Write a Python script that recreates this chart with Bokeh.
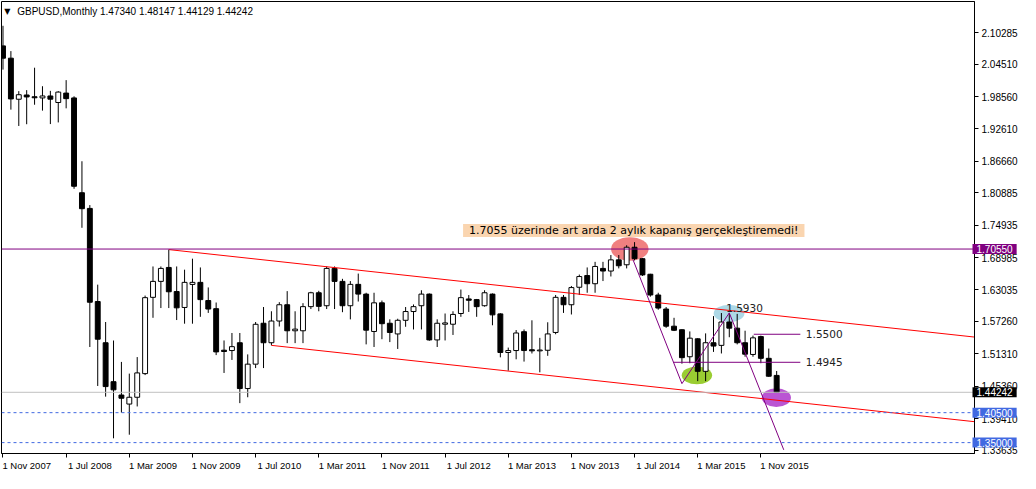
from bokeh.plotting import figure
from bokeh.models import Range1d, FixedTicker, PrintfTickFormatter, Span, Label, ColumnDataSource, LinearAxis
from bokeh.layouts import row
from bokeh.embed import file_html
from bokeh.resources import INLINE

# ---------------- data (monthly GBPUSD, Nov 2007 .. Jan 2016) ----------------
bar_index = list(range(99))
opens = [2.0786, 2.0560, 1.9806, 1.9884, 1.9852, 1.9830, 1.9866, 1.9746, 1.9919, 1.9830,
         1.8089, 1.7801, 1.6091, 1.5334, 1.4619, 1.4374, 1.4208, 1.4333, 1.4767, 1.6168,
         1.6461, 1.6717, 1.6274, 1.5982, 1.6405, 1.6443, 1.6109, 1.5960, 1.5197, 1.5191,
         1.5334, 1.4493, 1.4941, 1.5692, 1.5334, 1.5733, 1.6032, 1.5554, 1.5554, 1.5997,
         1.6252, 1.6014, 1.6699, 1.6461, 1.6014, 1.6406, 1.6227, 1.5541, 1.6067, 1.5692,
         1.5496, 1.5746, 1.5907, 1.6014, 1.6227, 1.5386, 1.5674, 1.5674, 1.5871, 1.6138,
         1.6126, 1.6014, 1.6227, 1.5864, 1.5155, 1.5191, 1.5537, 1.5205, 1.5185, 1.5196,
         1.5523, 1.6168, 1.6032, 1.6353, 1.6568, 1.6418, 1.6699, 1.6651, 1.6856, 1.6766,
         1.7088, 1.6878, 1.6592, 1.6211, 1.5953, 1.5638, 1.5573, 1.5077, 1.5406, 1.4809,
         1.5334, 1.5286, 1.5715, 1.5602, 1.5334, 1.5119, 1.5447, 1.5048, 1.47340]
highs = [2.1155, 2.0690, 1.9955, 1.9973, 2.0385, 2.0045, 1.9960, 1.9955, 2.0157, 1.9860,
         1.8667, 1.7862, 1.6401, 1.5715, 1.5375, 1.4982, 1.4767, 1.5071, 1.6200, 1.6735,
         1.6735, 1.7045, 1.6735, 1.6676, 1.6878, 1.6717, 1.6350, 1.6073, 1.5376, 1.5513,
         1.5513, 1.5120, 1.5715, 1.5990, 1.5912, 1.6079, 1.6282, 1.5912, 1.6061, 1.6270,
         1.6288, 1.6735, 1.6735, 1.6508, 1.6466, 1.6604, 1.6252, 1.6252, 1.6109, 1.5764,
         1.5775, 1.5990, 1.6037, 1.6298, 1.6240, 1.5764, 1.5871, 1.5912, 1.6311, 1.6210,
         1.6138, 1.6298, 1.6240, 1.5876, 1.5245, 1.5567, 1.5578, 1.5746, 1.5424, 1.5710,
         1.6211, 1.6211, 1.6377, 1.6586, 1.6717, 1.6820, 1.6820, 1.6945, 1.6945, 1.7124,
         1.7182, 1.6890, 1.6600, 1.6252, 1.5990, 1.5792, 1.5580, 1.5542, 1.5418, 1.5506,
         1.5823, 1.5880, 1.5882, 1.5864, 1.5555, 1.5465, 1.5465, 1.5227, 1.48147]
lows = [2.0350, 1.9615, 1.9315, 1.9347, 1.9705, 1.9597, 1.9350, 1.9380, 1.9639, 1.8161,
        1.7445, 1.5256, 1.4540, 1.4344, 1.3579, 1.4052, 1.3645, 1.4164, 1.4740, 1.5792,
        1.5971, 1.5971, 1.5751, 1.5684, 1.5684, 1.5810, 1.5882, 1.5107, 1.4779, 1.5018,
        1.4225, 1.4333, 1.4869, 1.4869, 1.5286, 1.5632, 1.5327, 1.5327, 1.5327, 1.5953,
        1.5912, 1.5953, 1.5953, 1.5895, 1.5763, 1.6091, 1.5304, 1.5256, 1.5399, 1.5346,
        1.5220, 1.5627, 1.5578, 1.5578, 1.5370, 1.5256, 1.5376, 1.5477, 1.5810, 1.5900,
        1.5810, 1.5997, 1.5655, 1.5066, 1.4821, 1.5030, 1.4988, 1.5137, 1.4791, 1.5094,
        1.5490, 1.5882, 1.5853, 1.6211, 1.6252, 1.6252, 1.6467, 1.6551, 1.6699, 1.6699,
        1.6847, 1.6560, 1.6180, 1.5941, 1.5608, 1.5549, 1.4950, 1.4958, 1.4629, 1.4629,
        1.5166, 1.5137, 1.5435, 1.5304, 1.5077, 1.5077, 1.4958, 1.4708, 1.44129]
closes = [2.0560, 1.9812, 1.9889, 1.9848, 1.9833, 1.9866, 1.9807, 1.9937, 1.9817, 1.8208,
          1.7796, 1.6078, 1.5399, 1.4529, 1.4469, 1.4315, 1.4333, 1.4780, 1.6162, 1.6461,
          1.6699, 1.6270, 1.5975, 1.6443, 1.6443, 1.6126, 1.5953, 1.5166, 1.5173, 1.5262,
          1.4493, 1.4941, 1.5673, 1.5334, 1.5733, 1.6032, 1.5554, 1.5584, 1.5997, 1.6252,
          1.6002, 1.6699, 1.6461, 1.6014, 1.6406, 1.6227, 1.5565, 1.6067, 1.5684, 1.5523,
          1.5746, 1.5907, 1.5997, 1.6227, 1.5386, 1.5692, 1.5698, 1.5854, 1.6162, 1.6114,
          1.5997, 1.6252, 1.5846, 1.5155, 1.5191, 1.5513, 1.5191, 1.5185, 1.5200, 1.5496,
          1.6168, 1.6032, 1.6347, 1.6550, 1.6418, 1.6735, 1.6651, 1.6856, 1.6748, 1.7088,
          1.6878, 1.6580, 1.6211, 1.5971, 1.5638, 1.5563, 1.5060, 1.5418, 1.4809, 1.5334,
          1.5273, 1.5715, 1.5602, 1.5334, 1.5124, 1.5424, 1.5048, 1.4719, 1.44242]

date_tick_index = [0, 8, 16, 24, 32, 40, 48, 56, 64, 72, 80, 88, 96]
date_tick_labels = ["1 Nov 2007", "1 Jul 2008", "1 Mar 2009", "1 Nov 2009", "1 Jul 2010",
                    "1 Mar 2011", "1 Nov 2011", "1 Jul 2012", "1 Mar 2013", "1 Nov 2013",
                    "1 Jul 2014", "1 Mar 2015", "1 Nov 2015"]
price_ticks = [2.10285, 2.04510, 1.98560, 1.92610, 1.86660, 1.80885, 1.74935, 1.68985,
               1.63035, 1.57260, 1.51310, 1.45360, 1.39410, 1.33635]

resistance_level = 1.7055
bid_level = 1.44242
support_levels = [1.40500, 1.35000]

price_tag_values = [1.70550, 1.44242, 1.40500, 1.35000]
price_tag_colors = ["#800080", "black", "#4169E1", "#4169E1"]

channel_upper_x = [21, 130]
channel_upper_y = [1.7045, 1.5329]
channel_lower_x = [34, 130]
channel_lower_y = [1.5286, 1.3775]
zigzag_x = [79.8, 86.0, 92.0, 98.9]
zigzag_y = [1.6860, 1.4583, 1.5882, 1.3367]
short_levels_x0 = [95.1, 84.9]
short_levels_x1 = [101.0, 101.0]
short_levels_y = [1.5490, 1.4975]
short_level_labels = ["1.5500", "1.4945"]

ellipse_x = [79.4, 91.97, 87.9, 97.96]
ellipse_y = [1.7057, 1.5873, 1.4735, 1.4326]
ellipse_w = [4.75, 3.9, 3.85, 3.7]
ellipse_h = [0.0432, 0.0318, 0.0328, 0.0345]
ellipse_colors = ["#F08080", "#ADD8E6", "#9ACD32", "#BA55D3"]

title_text = "GBPUSD,Monthly  1.47340 1.48147 1.44129 1.44242"
note_text = "1.7055 üzerinde art arda 2 aylık kapanış gerçekleştiremedi!"

X0, X1 = -0.19, 123.06
Y0, Y1 = 1.3300, 2.1601
LABEL_SHIFT = 3    # date labels sit to the right of their tick, as in the source
SCALE_W = 53       # width of the price-scale strip that carries the coloured tags


def add_date_axes(fig, ticks, labels, visible=True):
    a = fig.xaxis[0]
    a.ticker = FixedTicker(ticks=ticks)
    a.major_label_overrides = {t: "" for t in ticks}
    a.major_label_text_font_size = "1px"
    a.major_label_standoff = 0
    a.major_tick_in = 0
    a.major_tick_out = 4
    a.minor_tick_out = 0
    a.minor_tick_in = 0
    a.axis_line_color = "black"
    shifted = [t + LABEL_SHIFT for t in ticks]
    b = LinearAxis(ticker=FixedTicker(ticks=shifted),
                   major_label_overrides={t: lab for t, lab in zip(shifted, labels)},
                   major_label_text_font="Liberation Sans", major_label_text_font_size="9.5px",
                   major_label_text_color="black", major_tick_in=0, major_tick_out=0,
                   minor_tick_in=0, minor_tick_out=0, axis_line_color=None, major_label_standoff=2)
    fig.add_layout(b, "below")
    if not visible:
        a.axis_line_alpha = 0
        a.major_tick_line_alpha = 0
        b.major_label_text_alpha = 0


# ---------------- main figure ----------------
p = figure(width=1020, height=473, output_backend="svg", toolbar_location=None, tools="",
           x_range=Range1d(X0, X1), y_range=Range1d(Y0, Y1), y_axis_location="right")
p.min_border_left = 1
p.min_border_top = 1
p.min_border_right = 0
p.min_border_bottom = 0
p.grid.visible = False
p.outline_line_color = "black"
p.background_fill_color = "white"
p.border_fill_color = "white"

add_date_axes(p, date_tick_index, date_tick_labels)

ya = p.yaxis[0]
ya.ticker = FixedTicker(ticks=price_ticks)
ya.formatter = PrintfTickFormatter(format="%.5f")
ya.major_label_text_font = "Liberation Sans"
ya.major_label_text_font_size = "10px"
ya.major_label_text_color = "black"
ya.major_tick_in = 0
ya.major_tick_out = 4
ya.minor_tick_out = 0
ya.minor_tick_in = 0
ya.axis_line_color = "black"
ya.major_label_standoff = 3

# ellipses (background)
p.ellipse(x=ellipse_x, y=ellipse_y, width=ellipse_w, height=ellipse_h,
          fill_color=ellipse_colors, line_color=None)

# candles
fills = ["white" if c >= o else "black" for o, c in zip(opens, closes)]
src = ColumnDataSource(dict(
    x=bar_index, high=highs, low=lows,
    top=[max(o, c) for o, c in zip(opens, closes)],
    bottom=[min(o, c) for o, c in zip(opens, closes)],
    fill=fills))
p.segment(x0="x", y0="high", x1="x", y1="low", source=src, line_color="black", line_width=1)
p.vbar(x="x", top="top", bottom="bottom", width=0.62, fill_color="fill",
       line_color="black", line_width=1, source=src)

# horizontal levels
p.add_layout(Span(location=resistance_level, dimension="width", line_color="#800080", line_width=1))
p.add_layout(Span(location=bid_level, dimension="width", line_color="#C0C0C0", line_width=1))
for lv in support_levels:
    p.add_layout(Span(location=lv, dimension="width", line_color="#4169E1",
                      line_width=1, line_dash="3 3"))

# channel and trend lines
p.line(channel_upper_x, channel_upper_y, line_color="red", line_width=1)
p.line(channel_lower_x, channel_lower_y, line_color="red", line_width=1)
p.line(zigzag_x, zigzag_y, line_color="#800080", line_width=1)
p.segment(x0=short_levels_x0, y0=short_levels_y, x1=short_levels_x1, y1=short_levels_y,
          line_color="#800080", line_width=1)

for yv, txt in zip(short_levels_y, short_level_labels):
    p.add_layout(Label(x=101.7, y=yv, text=txt, text_font="DejaVu Sans", text_font_size="10.5px",
                       text_color="#222222", text_align="left", text_baseline="middle"))
p.add_layout(Label(x=91.6, y=1.5978, text="1.5930", text_font="DejaVu Sans", text_font_size="10.5px",
                   text_color="#222222", text_align="left", text_baseline="middle"))

# note box
p.add_layout(Label(x=79.9, y=1.7397, text=note_text, text_font="DejaVu Sans", text_font_size="11px",
                   text_color="black", text_align="center", text_baseline="middle",
                   background_fill_color="#FAD5B0", padding=(6, 0)))

# title
p.add_layout(Label(x=0.55, y=2.1420, text="\u25bc", text_font="DejaVu Sans", text_font_size="8px",
                   text_color="black", text_align="center", text_baseline="middle"))
p.add_layout(Label(x=1.8, y=2.1420, text=title_text, text_font="Liberation Sans", text_font_size="10px",
                   text_color="black", text_align="left", text_baseline="middle"))

# ---------------- transparent strip over the price scale, for the coloured tags ----------------
q = figure(width=SCALE_W, height=473, output_backend="svg", toolbar_location=None, tools="",
           x_range=Range1d(0, SCALE_W), y_range=p.y_range, y_axis_location=None,
           margin=(0, 0, 0, -SCALE_W))
q.min_border_left = 0
q.min_border_right = 0
q.min_border_top = 1
q.min_border_bottom = 0
q.grid.visible = False
q.outline_line_color = None
q.background_fill_alpha = 0
q.border_fill_alpha = 0
add_date_axes(q, [20], [date_tick_labels[0]], visible=False)

for yv, bg in zip(price_tag_values, price_tag_colors):
    q.add_layout(Label(x=0, y=yv, x_offset=5, text="%.5f" % yv,
                       text_font="Liberation Sans", text_font_size="10px", text_color="white",
                       text_align="left", text_baseline="middle",
                       background_fill_color=bg, padding=(4, 1)))

open("out.html", "w").write(file_html(row(p, q), INLINE))
